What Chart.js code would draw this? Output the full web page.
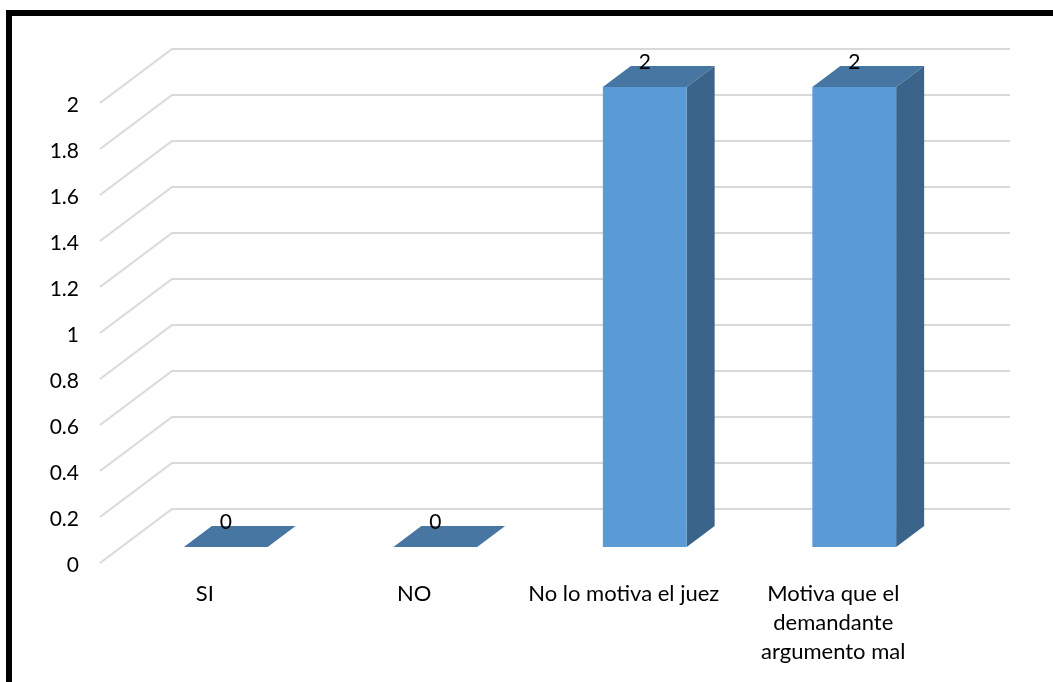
<!DOCTYPE html>
<html>
<head>
<meta charset="utf-8">
<script src="https://cdn.jsdelivr.net/npm/chart.js@4"></script>
<style>
  html, body { margin: 0; background: #fff; overflow: hidden; }
  #frame { position: absolute; left: 6px; top: 10px; right: 0; bottom: 0; border-left: 6px solid #000; border-top: 6px solid #000; }
  #wrap { position: absolute; left: 0; top: 0; width: 1053px; height: 682px; }
</style>
</head>
<body>
<div id="frame"></div>
<div id="wrap"><canvas id="chart"></canvas></div>
<script>
// Datos
const categories = ['SI', 'NO', 'No lo motiva el juez', ['Motiva que el', 'demandante', 'argumento mal']];
const values = [0, 0, 2, 2];
const yMin = 0;
const yMax = 2;
const yStep = 0.2;

// 3D look: wall depth and how far the bars sit inside it
const wallDx = 72, wallDy = -54;
const barShiftX = 21, barShiftY = -16;
const barDx = 28, barDy = -21;

const colors = {
  front: '#5b9bd5',
  top: '#4776a3',
  side: '#3a6489',
  grid: '#d9d9d9',
  text: '#000'
};
const fontFamily = 'Lato, "Open Sans", sans-serif';

const poly = (ctx, pts, fill) => {
  ctx.beginPath();
  ctx.moveTo(pts[0][0], pts[0][1]);
  pts.slice(1).forEach(p => ctx.lineTo(p[0], p[1]));
  ctx.closePath();
  ctx.fillStyle = fill;
  ctx.fill();
}

const wall3d = {
  id: 'wall3d',
  beforeDatasetsDraw(chart) {
    const ctx = chart.ctx;
    const {left, right} = chart.chartArea;
    const y = chart.scales.y;
    ctx.save();
    ctx.strokeStyle = colors.grid;
    ctx.lineWidth = 2;
    // Side wall and back wall lines for every tick
    y.ticks.forEach(t => {
      const py = y.getPixelForValue(t.value);
      ctx.beginPath();
      ctx.moveTo(left, py);
      ctx.lineTo(left + wallDx, py + wallDy);
      ctx.lineTo(right + wallDx, py + wallDy);
      ctx.stroke();
    });
    ctx.restore();

    // Top and side faces, the front comes from the bar elements
    ctx.save();
    ctx.translate(barShiftX, barShiftY);
    chart.getDatasetMeta(0).data.forEach(bar => {
      const l = bar.x - bar.width / 2;
      const r = bar.x + bar.width / 2;
      poly(ctx, [[l, bar.y], [l + barDx, bar.y + barDy], [r + barDx, bar.y + barDy], [r, bar.y]], colors.top);
      if (bar.base > bar.y) {
        poly(ctx, [[r, bar.y], [r + barDx, bar.y + barDy], [r + barDx, bar.base + barDy], [r, bar.base]], colors.side);
      }
    });
    // stays translated for the bars, restored in afterDatasetsDraw
  },
  afterDatasetsDraw(chart) {
    const ctx = chart.ctx;
    ctx.restore();
    // Value labels
    ctx.save();
    ctx.font = '21px ' + fontFamily;
    ctx.fillStyle = colors.text;
    ctx.textAlign = 'center';
    ctx.textBaseline = 'middle';
    chart.getDatasetMeta(0).data.forEach((bar, i) => {
      ctx.fillText(String(values[i]), bar.x + barShiftX, bar.y + barShiftY - 25);
    });
    ctx.restore();
  }
}

new Chart(document.getElementById('chart'), {
  type: 'bar',
  data: {
    labels: categories,
    datasets: [{
      data: values,
      backgroundColor: colors.front,
      categoryPercentage: 1,
      barPercentage: 0.4,
      borderWidth: 0,
      clip: false
    }]
  },
  options: {
    responsive: true,
    maintainAspectRatio: false,
    animation: false,
    layout: { padding: { top: 103, right: 115 } },
    plugins: { legend: { display: false }, tooltip: { enabled: false } },
    scales: {
      x: {
        grid: { display: false },
        border: { display: false },
        afterFit(scale) { scale.height = 119; },
        ticks: {
          color: colors.text,
          font: { family: fontFamily, size: 22, lineHeight: 1.32 },
          padding: 8,
          maxRotation: 0,
          autoSkip: false
        }
      },
      y: {
        min: yMin,
        max: yMax,
        grid: { display: false },
        border: { display: false },
        afterFit(scale) { scale.width = 100; },
        ticks: {
          stepSize: yStep,
          color: colors.text,
          // blank first line with a short line height moves the number down 2px
          font: { family: fontFamily, size: 21, lineHeight: '4px' },
          padding: 13,
          callback: v => ['', String(+v.toFixed(1))]
        }
      }
    }
  },
  plugins: [wall3d]
});
</script>
</body>
</html>
